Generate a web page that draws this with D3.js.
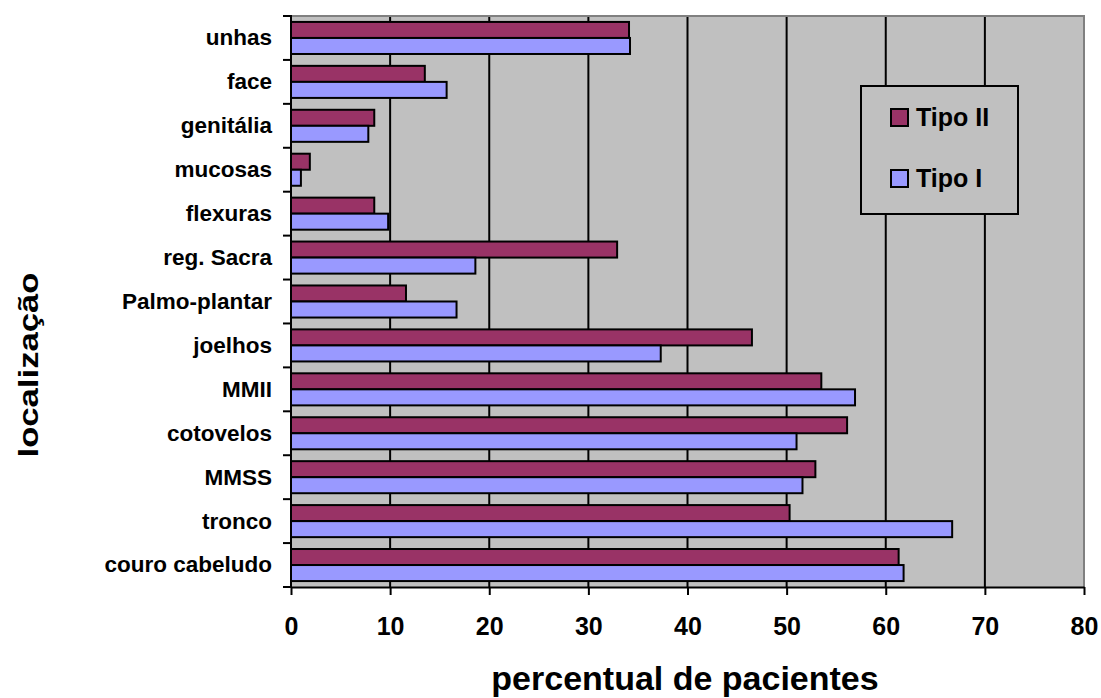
<!DOCTYPE html>
<html>
<head>
<meta charset="utf-8">
<script src="https://cdn.jsdelivr.net/npm/d3@7"></script>
<style>
  html, body { margin: 0; padding: 0; background: #ffffff; }
  svg { display: block; }
  text { font-family: Arial, "Liberation Sans", Helvetica, sans-serif; font-weight: bold; fill: #000; }
</style>
</head>
<body>
<svg id="chart" width="1101" height="698"></svg>
<script>
// Body regions, listed top to bottom
const categories = [
  "unhas", "face", "genitália", "mucosas", "flexuras", "reg. Sacra",
  "Palmo-plantar", "joelhos", "MMII", "cotovelos", "MMSS", "tronco", "couro cabeludo"
];
// Percentage of patients per region
const tipoII = [34.1, 13.5, 8.4, 1.9, 8.4, 32.9, 11.6, 46.5, 53.5, 56.1, 52.9, 50.3, 61.3];
const tipoI  = [34.2, 15.7, 7.8, 1.0, 9.8, 18.6, 16.7, 37.3, 56.9, 51.0, 51.6, 66.7, 61.8];
const seriesNames = ["Tipo II", "Tipo I"];
const xTicks = [0, 10, 20, 30, 40, 50, 60, 70, 80];

const colors = { "Tipo II": "#993366", "Tipo I": "#9999FF" };

const svg = d3.select("#chart");
const plot = { left: 291, right: 1084, top: 16, bottom: 587 };

const x = d3.scaleLinear().domain([0, 80]).range([plot.left, plot.right]);
const y = d3.scaleBand().domain(categories).range([plot.top, plot.bottom]).padding(0);
const inner = d3.scaleBand().domain(seriesNames)
  .range([0, y.bandwidth()]).paddingOuter(0.37).paddingInner(0);

const rows = categories.map((c, i) => ({ cat: c, "Tipo II": tipoII[i], "Tipo I": tipoI[i] }));

// Plot background
svg.append("rect")
  .attr("x", plot.left).attr("y", plot.top)
  .attr("width", plot.right - plot.left).attr("height", plot.bottom - plot.top)
  .attr("fill", "#C0C0C0");

// Vertical gridlines
svg.append("g").selectAll("line")
  .data(xTicks.filter(t => t > 0 && t < 80))
  .join("line")
  .attr("x1", d => x(d)).attr("x2", d => x(d))
  .attr("y1", plot.top).attr("y2", plot.bottom)
  .attr("stroke", "#000").attr("stroke-width", 2);

// Top and right frame
svg.append("path")
  .attr("d", `M${plot.left},${plot.top}H${plot.right}V${plot.bottom}`)
  .attr("fill", "none").attr("stroke", "#808080").attr("stroke-width", 2);

// Bars
const groups = svg.append("g").selectAll("g")
  .data(rows).join("g")
  .attr("transform", d => `translate(0,${y(d.cat)})`);

groups.selectAll("rect")
  .data(d => seriesNames.map(s => ({ s, v: d[s] })))
  .join("rect")
  .attr("x", x(0))
  .attr("y", d => inner(d.s))
  .attr("width", d => x(d.v) - x(0))
  .attr("height", inner.bandwidth())
  .attr("fill", d => colors[d.s])
  .attr("stroke", "#000").attr("stroke-width", 2);

// Bottom axis
const xAxis = svg.append("g")
  .attr("transform", `translate(0,${plot.bottom})`)
  .call(d3.axisBottom(x).tickValues(xTicks).tickSize(8).tickSizeOuter(0).tickPadding(30));
xAxis.select(".domain").attr("stroke", "#000").attr("stroke-width", 2);
xAxis.selectAll(".tick line").attr("stroke", "#000").attr("stroke-width", 2);
xAxis.selectAll(".tick text")
  .attr("dy", "0")
  .attr("y", 48)
  .style("font-size", "25px");

// Left axis: labels centred on each band, ticks at band boundaries
const yAxis = svg.append("g")
  .attr("transform", `translate(${plot.left},0)`)
  .call(d3.axisLeft(y).tickSize(0).tickPadding(19));
yAxis.select(".domain").remove();
yAxis.selectAll(".tick text")
  .attr("dy", "0.33em")
  .style("font-size", "22.5px");

const boundaries = d3.range(categories.length + 1).map(i => plot.top + i * y.step());
svg.append("g").selectAll("line")
  .data(boundaries).join("line")
  .attr("x1", plot.left - 8).attr("x2", plot.left)
  .attr("y1", d => d).attr("y2", d => d)
  .attr("stroke", "#000").attr("stroke-width", 2);
svg.append("line")
  .attr("x1", plot.left).attr("x2", plot.left)
  .attr("y1", plot.top - 1).attr("y2", plot.bottom + 1)
  .attr("stroke", "#000").attr("stroke-width", 2);

// Axis titles
svg.append("text")
  .attr("x", 685).attr("y", 690)
  .attr("text-anchor", "middle")
  .style("font-size", "34px")
  .text("percentual de pacientes");

svg.append("text")
  .attr("transform", "translate(38,365) rotate(-90)")
  .attr("text-anchor", "middle")
  .attr("textLength", 185).attr("lengthAdjust", "spacingAndGlyphs")
  .style("font-size", "27px")
  .text("localização");

// Legend
const legend = svg.append("g");
legend.append("rect")
  .attr("x", 861).attr("y", 86).attr("width", 157).attr("height", 128)
  .attr("fill", "#C0C0C0").attr("stroke", "#000").attr("stroke-width", 2);

const items = legend.selectAll("g.item")
  .data(seriesNames).join("g").attr("class", "item")
  .attr("transform", (d, i) => `translate(891,${109 + i * 61})`);
items.append("rect")
  .attr("width", 17).attr("height", 17)
  .attr("fill", d => colors[d]).attr("stroke", "#000").attr("stroke-width", 2);
items.append("text")
  .attr("x", 25).attr("y", 17)
  .style("font-size", "25px")
  .text(d => d);
</script>
</body>
</html>
